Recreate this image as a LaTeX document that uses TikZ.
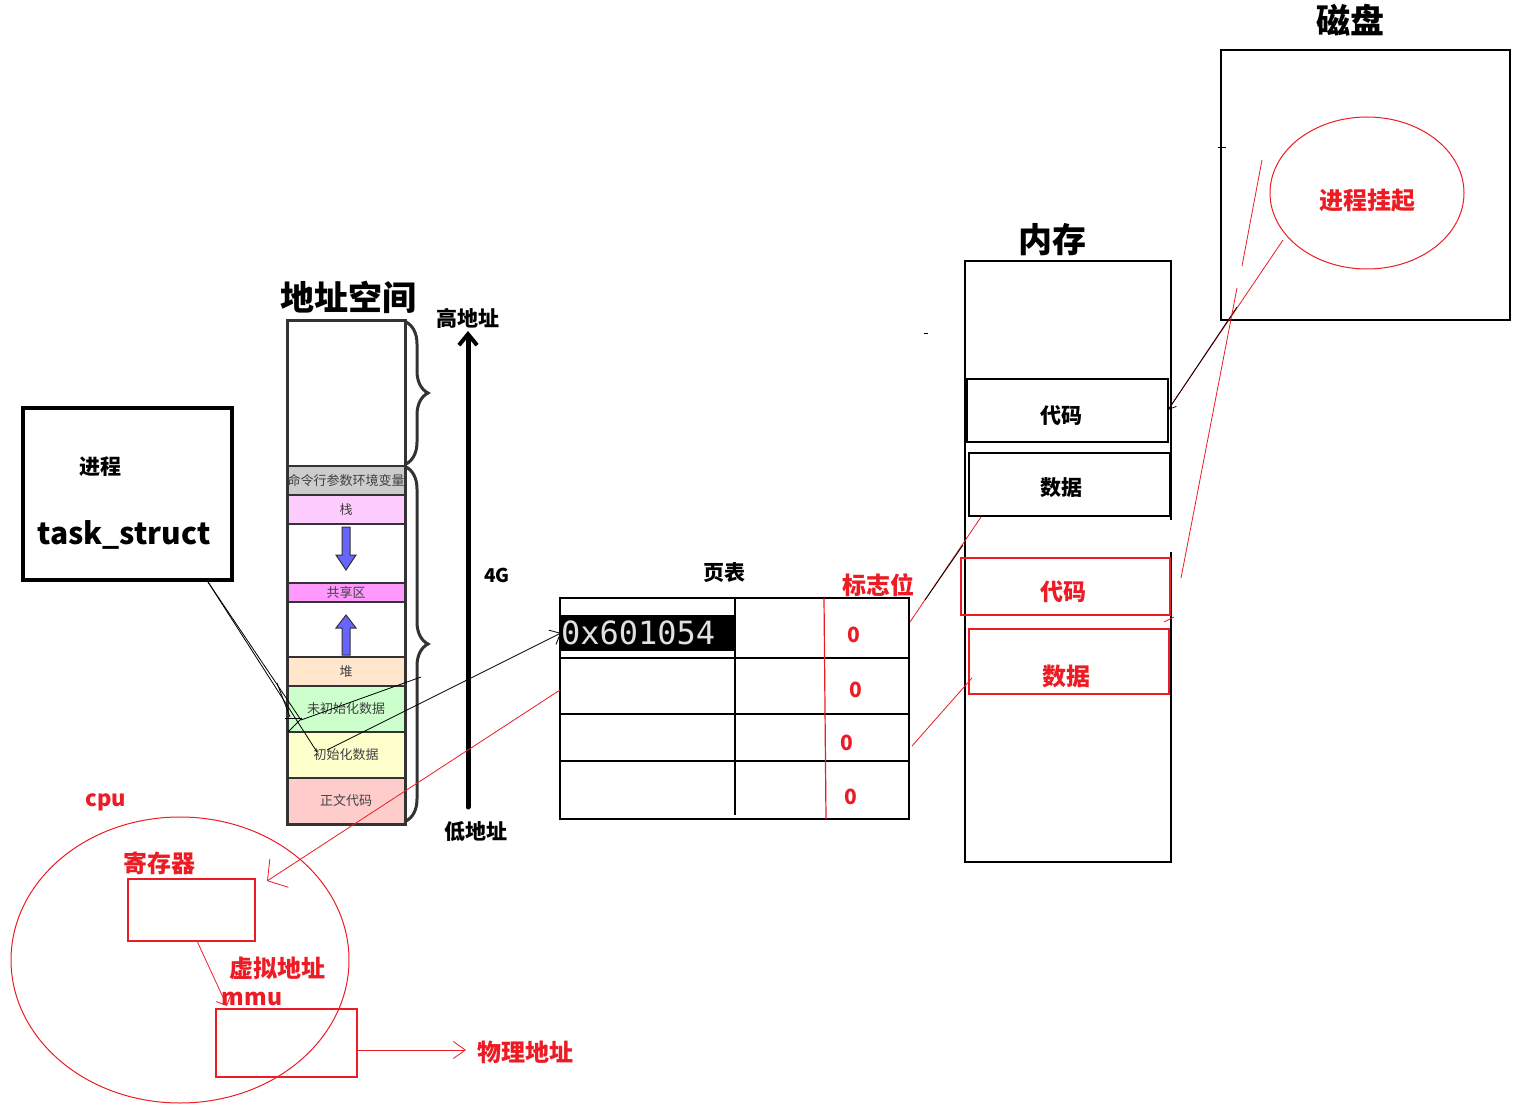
\documentclass[tikz,border=0pt]{standalone}
\usepackage{fontspec}
\setmainfont{Noto Sans CJK SC}
\newfontfamily\monofont{DejaVu Sans Mono}
\usetikzlibrary{arrows.meta,decorations.pathreplacing}
\definecolor{pred}{HTML}{ED1C24}
\definecolor{segline}{HTML}{333333}
\definecolor{ablue}{HTML}{6666FF}
\definecolor{cgray}{HTML}{CCCCCC}
\definecolor{cpink}{HTML}{FFCCFF}
\definecolor{cmag}{HTML}{FF99FF}
\definecolor{cpeach}{HTML}{FFE6CC}
\definecolor{cgreen}{HTML}{CCFFCC}
\definecolor{cyell}{HTML}{FFFFCC}
\definecolor{crose}{HTML}{FFCCCC}
\newcommand{\fs}[1]{\fontsize{#1}{#1}\selectfont}
\begin{document}
\begin{tikzpicture}[x=1pt,y=-1pt, every node/.style={outer sep=0pt},
  seg/.style={draw=segline, line width=2.5pt, minimum width=118pt, inner sep=0pt,
    font=\fs{13}, text=black!75, anchor=north west},
  title/.style={font=\bfseries\fs{34}, inner sep=0pt},
  lbl/.style={font=\bfseries\fs{21}, inner sep=0pt},
  rlbl/.style={font=\bfseries\fs{24}, text=pred, inner sep=0pt},
  zero/.style={font=\bfseries\fs{21}, text=pred, inner sep=0pt},
  thinbk/.style={line width=0.8pt, black},
  thinrd/.style={line width=0.8pt, pred},
  box/.style={draw, line width=1.2pt, inner sep=0pt, anchor=north west},
  rbox/.style={draw=pred, line width=1.2pt, inner sep=0pt, anchor=north west},
  brc/.style={decorate, decoration={brace, amplitude=22pt}, line width=3pt, segline}
]
\useasboundingbox (0,0) rectangle (1535,1115);
\fill[white] (0,0) rectangle (1535,1115);

% ---------------- address space ----------------
\node[title] (tAS) at (348,297) {地址空间};
\node[seg, fill=white, minimum height=145pt] (sEmpty) at (287,321) {};
\node[seg, fill=cgray, minimum height=29pt] (sCmd) at (287,466) {命令行参数环境变量};
\node[seg, fill=cpink, minimum height=29pt] (sStack) at (287,495) {栈};
\node[seg, fill=white, minimum height=59pt] (sGap1) at (287,524) {};
\node[seg, fill=cmag, minimum height=19pt] (sShare) at (287,583) {共享区};
\node[seg, fill=white, minimum height=55pt] (sGap2) at (287,602) {};
\node[seg, fill=cpeach, minimum height=29pt] (sHeap) at (287,657) {堆};
\node[seg, fill=cgreen, minimum height=46pt] (sBss) at (287,686) {未初始化数据};
\node[seg, fill=cyell, minimum height=46pt] (sData) at (287,732) {初始化数据};
\node[seg, fill=crose, minimum height=46pt] (sText) at (287,778) {正文代码};
\node[draw=segline, line width=3pt, minimum width=118pt, minimum height=503pt,
      inner sep=0pt, anchor=north west] (as) at (287,321) {};

% blue arrows
\draw[fill=ablue, draw=segline, line width=1pt]
  (342,527)--(350,527)--(350,555)--(356,555)--(346,570)--(336,555)--(342,555)--cycle;
\draw[fill=ablue, draw=segline, line width=1pt]
  (342,655)--(350,655)--(350,628)--(356,628)--(346,615)--(336,628)--(342,628)--cycle;

% braces
\coordinate (b1s) at (406,322); \coordinate (b1e) at (406,464);
\coordinate (b2s) at (406,467); \coordinate (b2e) at (406,821);
\draw[brc] (b1s) -- (b1e);
\draw[brc] (b2s) -- (b2e);

% big arrow
\node[lbl] (hi) at (468,318) {高地址};
\node[lbl] (lo) at (476,832) {低地址};
\node[font=\bfseries\fs{19}, inner sep=0pt] (g4) at (497,575) {4G};
\coordinate (arrB) at (468,807);
\coordinate (arrT) at (468,331);
\draw[line width=5pt, line cap=round, -{Straight Barb[length=11pt,width=18pt,line width=4pt]}] (arrB) -- (arrT);

% ---------------- task_struct ----------------
\node[draw, line width=4pt, minimum width=209pt, minimum height=172pt, inner sep=0pt] (task) at (127.5,494) {};
\node[lbl] (proc) at (100,467) {进程};
\node[font=\bfseries\fs{30}, inner sep=0pt] (ts) at (124,535) {task\_struct};

\coordinate (tsOut) at (208,582);
\coordinate (pA) at (317,752);
\coordinate (pB) at (301,720);
\draw[thinbk] (tsOut) -- (pA);
\draw[thinbk] (tsOut) -- (pB);
\draw[thinbk] (277,683) -- (290,717);
\draw[thinbk] (285,718) -- (302,718);
\draw[thinbk] (288,732) -- (302,718);
\coordinate (pC) at (421,677);
\draw[thinbk] (pC) -- (pB);

% ---------------- page table ----------------
\node[lbl] (pt) at (724,573) {页表};
\node[rlbl] (flag) at (878,585) {标志位};
\node[box, minimum width=349pt, minimum height=221pt] (table) at (560,598) {};
\draw[line width=1.2pt] (735,598) -- (735,815);
\draw[line width=1.2pt] (560,658) -- (909,658);
\draw[line width=1.2pt] (560,714) -- (909,714);
\draw[line width=1.2pt] (560,761) -- (909,761);
\draw[line width=1.2pt, pred] (824,598) -- (826,819);
\fill[black] (560,615) rectangle (735,651);
\node[anchor=west, inner sep=0pt, font=\monofont\fs{32}, text=white!88!black] (addr) at (561,633) {0x601054};
\node[zero] (z1) at (854,635) {0};
\node[zero] (z2) at (856,690) {0};
\node[zero] (z3) at (847,743) {0};
\node[zero] (z4) at (851,797) {0};

\coordinate (pD) at (327,750);
\draw[thinbk, -{Straight Barb[length=9pt,width=16pt,line width=0.8pt]}] (pD) -- (addr.west);

% ---------------- memory ----------------
\node[title] (tMem) at (1052,240) {内存};
\node[box, minimum width=206pt, minimum height=601pt] (mem) at (965,261) {};
\node[box, minimum width=201pt, minimum height=63pt] (mCode) at (967,379) {};
\node[lbl] (mCodeT) at (1061,416) {代码};
\node[box, minimum width=201pt, minimum height=63pt] (mData) at (969,453) {};
\node[lbl] (mDataT) at (1061,488) {数据};
\node[rbox, minimum width=209pt, minimum height=57pt] (mCode2) at (961,558) {};
\node[rlbl, font=\bfseries\fs{23}] (mCode2T) at (1063,592) {代码};
\node[rbox, minimum width=200pt, minimum height=65pt] (mData2) at (969,629) {};
\node[rlbl] (mData2T) at (1066,676) {数据};
\fill[white] (1169,520) rectangle (1173,552);

\coordinate (z1r) at (910,622);
\coordinate (mDataB) at (981,517);
\draw[thinrd] (z1r) -- (mDataB);
\draw[thinbk] (925,600) -- (963,545);
\coordinate (z3r) at (912,746);
\coordinate (mData2L) at (972,678);
\draw[thinrd] (z3r) -- (mData2L);
\draw[thinrd] (1164,622) -- (1174,617);

% ---------------- disk ----------------
\node[title] (tDisk) at (1350,20) {磁盘};
\node[box, minimum width=289pt, minimum height=270pt] (disk) at (1221,50) {};
\draw[pred, line width=1pt] (1367,193) ellipse [x radius=97, y radius=76];
\node[rlbl] (susp) at (1367,201) {进程挂起};
\coordinate (ellBL) at (1283,240);
\coordinate (codeR) at (1168,410);
\draw[thinrd] (ellBL) -- (codeR);
\coordinate (dk1) at (1237,307);
\draw[thinbk, -{Straight Barb[length=7pt,width=10pt,line width=0.8pt]}] (dk1) -- (mCode.east |- codeR);
\draw[thinrd] (1262,160) -- (1242,266);
\draw[thinrd] (1237,288) -- (1181,578);
\draw[thinbk] (1218,147) -- (1226,147);
\draw[thinbk] (924,333) -- (928,333);

% ---------------- cpu ----------------
\node[rlbl, font=\bfseries\fs{22}] (cpu) at (106,802) {cpu};
\draw[pred, line width=1pt] (180,960) ellipse [x radius=169, y radius=143];
\node[rlbl] (regL) at (159,863) {寄存器};
\node[rbox, minimum width=127pt, minimum height=62pt] (reg) at (128,879) {};
\node[rlbl] (vaddr) at (277,968) {虚拟地址};
\node[rlbl, font=\bfseries\fs{23}] (mmuL) at (252,999) {mmu};
\node[rbox, minimum width=141pt, minimum height=68pt] (mmu) at (216,1009) {};
\node[rlbl] (paddr) at (525,1052) {物理地址};

\coordinate (pt2) at (560,690);
\coordinate (regTip) at (267,881);
\draw[thinrd, -{Straight Barb[length=14pt,width=34pt,line width=0.8pt]}] (pt2) -- (regTip);
\coordinate (regB) at (197,941);
\coordinate (mmuTip) at (227,1006);
\draw[thinrd, -{Straight Barb[length=8pt,width=16pt,line width=0.8pt]}] (regB) -- (mmuTip);
\coordinate (physTip) at (466,1050);
\draw[thinrd, -{Straight Barb[length=12pt,width=17pt,line width=0.8pt]}] (mmu.east |- physTip) -- (physTip);
\end{tikzpicture}
\end{document}
